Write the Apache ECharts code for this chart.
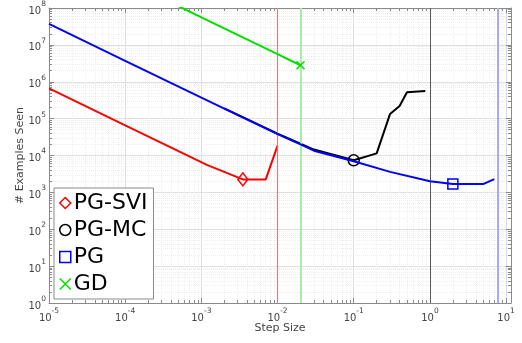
<!DOCTYPE html>
<html>
<head>
<meta charset="utf-8">
<script src="https://cdn.jsdelivr.net/npm/echarts@6/dist/echarts.min.js"></script>
<style>html,body{margin:0;padding:0;background:#fff}#c{width:522px;height:343px}</style>
</head>
<body>
<div id="c"></div>
<script>
// ---- data ----
const seriesNames = ['PG-SVI', 'PG-MC', 'PG', 'GD'];
const svX = [1e-5, 1e-4, 1.2e-3, 3.5e-3, 7e-3, 1e-2];
const svY = [6.6e5, 6.6e4, 5.5e3, 2.25e3, 2.25e3, 1.85e4];
const mcX = [2e-3, 1e-2, 2e-2, 3e-2, 0.1, 0.2, 0.3, 0.4, 0.5, 0.87];
const mcY = [1.9e5, 3.9e4, 2.1e4, 1.45e4, 7.4e3, 1.14e4, 1.34e5, 2.2e5, 5.2e5, 5.6e5];
const pgX = [1e-5, 1e-4, 1e-3, 1e-2, 2e-2, 3e-2, 0.1, 0.3, 1, 2, 5, 7];
const pgY = [3.7e7, 3.7e6, 3.7e5, 3.8e4, 2.0e4, 1.35e4, 7.0e3, 3.6e3, 2.0e3, 1.68e3, 1.68e3, 2.3e3];
const gdX = [1e-5, 1e-4, 1e-3, 1e-2, 2e-2];
const gdY = [5.6e9, 5.6e8, 5.6e7, 5.6e6, 2.8e6];
const bestIndex = [3, 4, 9, 4];           // marked point of each series
const limitSteps = [0.0113, 0.02, 1, 7.8]; // vertical reference lines
const xTickExps = [-5, -4, -3, -2, -1, 0, 1];
const yTickExps = [0, 1, 2, 3, 4, 5, 6, 7, 8];

// ---- styles ----
const colors = ['#ff0000', '#000000', '#0000ff', '#00e000'];
const limitColors = ['#ff6e6e', '#a6eea6', '#5a5a5a', '#a8a8ff'];
const limitWidths = [1.2, 2, 1, 2];
const symbols = ['diamond', 'circle', 'rect', 'path://M0,0L10,10M10,0L0,10'];
const symbolSizes = [[10, 13], 11, 10, 8];
const FONT = 'DejaVu Sans';
const TXT = '#444';

const fmt = (exps) => (v) => {
  const l = Math.log10(v), e = Math.round(l);
  if (Math.abs(l - e) > 1e-6 || exps.indexOf(e) < 0) return '';
  return '{b|10}{s|' + e + '}';
};
const rich = {
  b: {fontSize: 10, fontFamily: FONT, color: TXT, verticalAlign: 'bottom', lineHeight: 16},
  s: {fontSize: 7.5, fontFamily: FONT, color: TXT, verticalAlign: 'top', lineHeight: 9}
};
const gridLine = {show: true, lineStyle: {color: '#dedede', width: 1}};
const minorGrid = {show: true, lineStyle: {color: '#eeeeee', width: 1, type: 'dotted'}};
const axisLine = {show: true, lineStyle: {color: '#8a8a8a', width: 1}};
const tick = {show: true, inside: true, length: 5, lineStyle: {color: '#8a8a8a'}};
const mtick = {show: true, splitNumber: 9, length: 3, lineStyle: {color: '#8a8a8a'}};

const xs = [svX, mcX, pgX, gdX], ys = [svY, mcY, pgY, gdY];
const series = seriesNames.map((name, i) => ({
  name, type: 'line', xAxisIndex: 0, yAxisIndex: 0,
  showSymbol: true, symbol: 'none', z: 3 + i,
  lineStyle: {color: colors[i], width: 2},
  itemStyle: {color: colors[i]},
  data: xs[i].map((x, j) => j === bestIndex[i]
    ? {value: [x, ys[i][j]], symbol: symbols[i], symbolSize: symbolSizes[i],
       itemStyle: {color: 'rgba(0,0,0,0)', borderColor: colors[i], borderWidth: 1.5}}
    : {value: [x, ys[i][j]]}),
  emphasis: {disabled: true}, silent: true
}));
series.unshift({
  name: 'limits', type: 'line', data: [], z: 2, silent: true,
  markLine: {
    silent: true, symbol: 'none', label: {show: false}, animation: false,
    data: limitSteps.map((v, i) => ({xAxis: v,
      lineStyle: {color: limitColors[i], width: limitWidths[i], type: 'solid', opacity: 1}}))
  }
});

const chart = echarts.init(document.getElementById('c'), null, {renderer: 'canvas'});
chart.setOption({
  animation: false,
  backgroundColor: '#fff',
  grid: {left: 49, right: 11, top: 5, bottom: 40},
  xAxis: [
    {type: 'log', logBase: 10, min: 1e-5, max: 11.6, position: 'bottom',
     name: 'Step Size', nameLocation: 'middle', nameGap: 20, nameMoveOverlap: false,
     nameTextStyle: {fontSize: 11, fontFamily: FONT, color: TXT},
     axisLine, axisTick: tick, minorTick: mtick, splitLine: gridLine, minorSplitLine: minorGrid,
     axisLabel: {formatter: fmt(xTickExps), rich, margin: 4, showMaxLabel: false}},
    {type: 'log', logBase: 10, min: 1e-5, max: 11.6, position: 'top',
     axisLine, axisTick: tick, minorTick: mtick, splitLine: {show: false},
     axisLabel: {show: false}}
  ],
  yAxis: [
    {type: 'log', logBase: 10, min: 1, max: 1e8, position: 'left',
     name: '# Examples Seen', nameLocation: 'middle', nameGap: 23, nameRotate: 90, nameMoveOverlap: false,
     nameTextStyle: {fontSize: 11, fontFamily: FONT, color: TXT},
     axisLine, axisTick: tick, minorTick: mtick, splitLine: gridLine, minorSplitLine: minorGrid,
     axisLabel: {formatter: fmt(yTickExps), rich, margin: 3}},
    {type: 'log', logBase: 10, min: 1, max: 1e8, position: 'right',
     axisLine, axisTick: tick, minorTick: mtick, splitLine: {show: false},
     axisLabel: {show: false}}
  ],
  legend: {
    orient: 'vertical', left: 54, top: 188,
    backgroundColor: '#fff', borderColor: '#8a8a8a', borderWidth: 1,
    padding: [3, 6, 3, 5], itemGap: 3, itemWidth: 11, itemHeight: 11,
    selectedMode: false,
    textStyle: {fontSize: 22, fontFamily: FONT, color: '#000', lineHeight: 24, padding: [0, 0, 0, -2]},
    data: seriesNames.map((name, i) => ({
      name, icon: symbols[i],
      itemStyle: {color: 'rgba(0,0,0,0)', borderColor: colors[i], borderWidth: 1.5}
    }))
  },
  series
});
</script>
</body>
</html>
